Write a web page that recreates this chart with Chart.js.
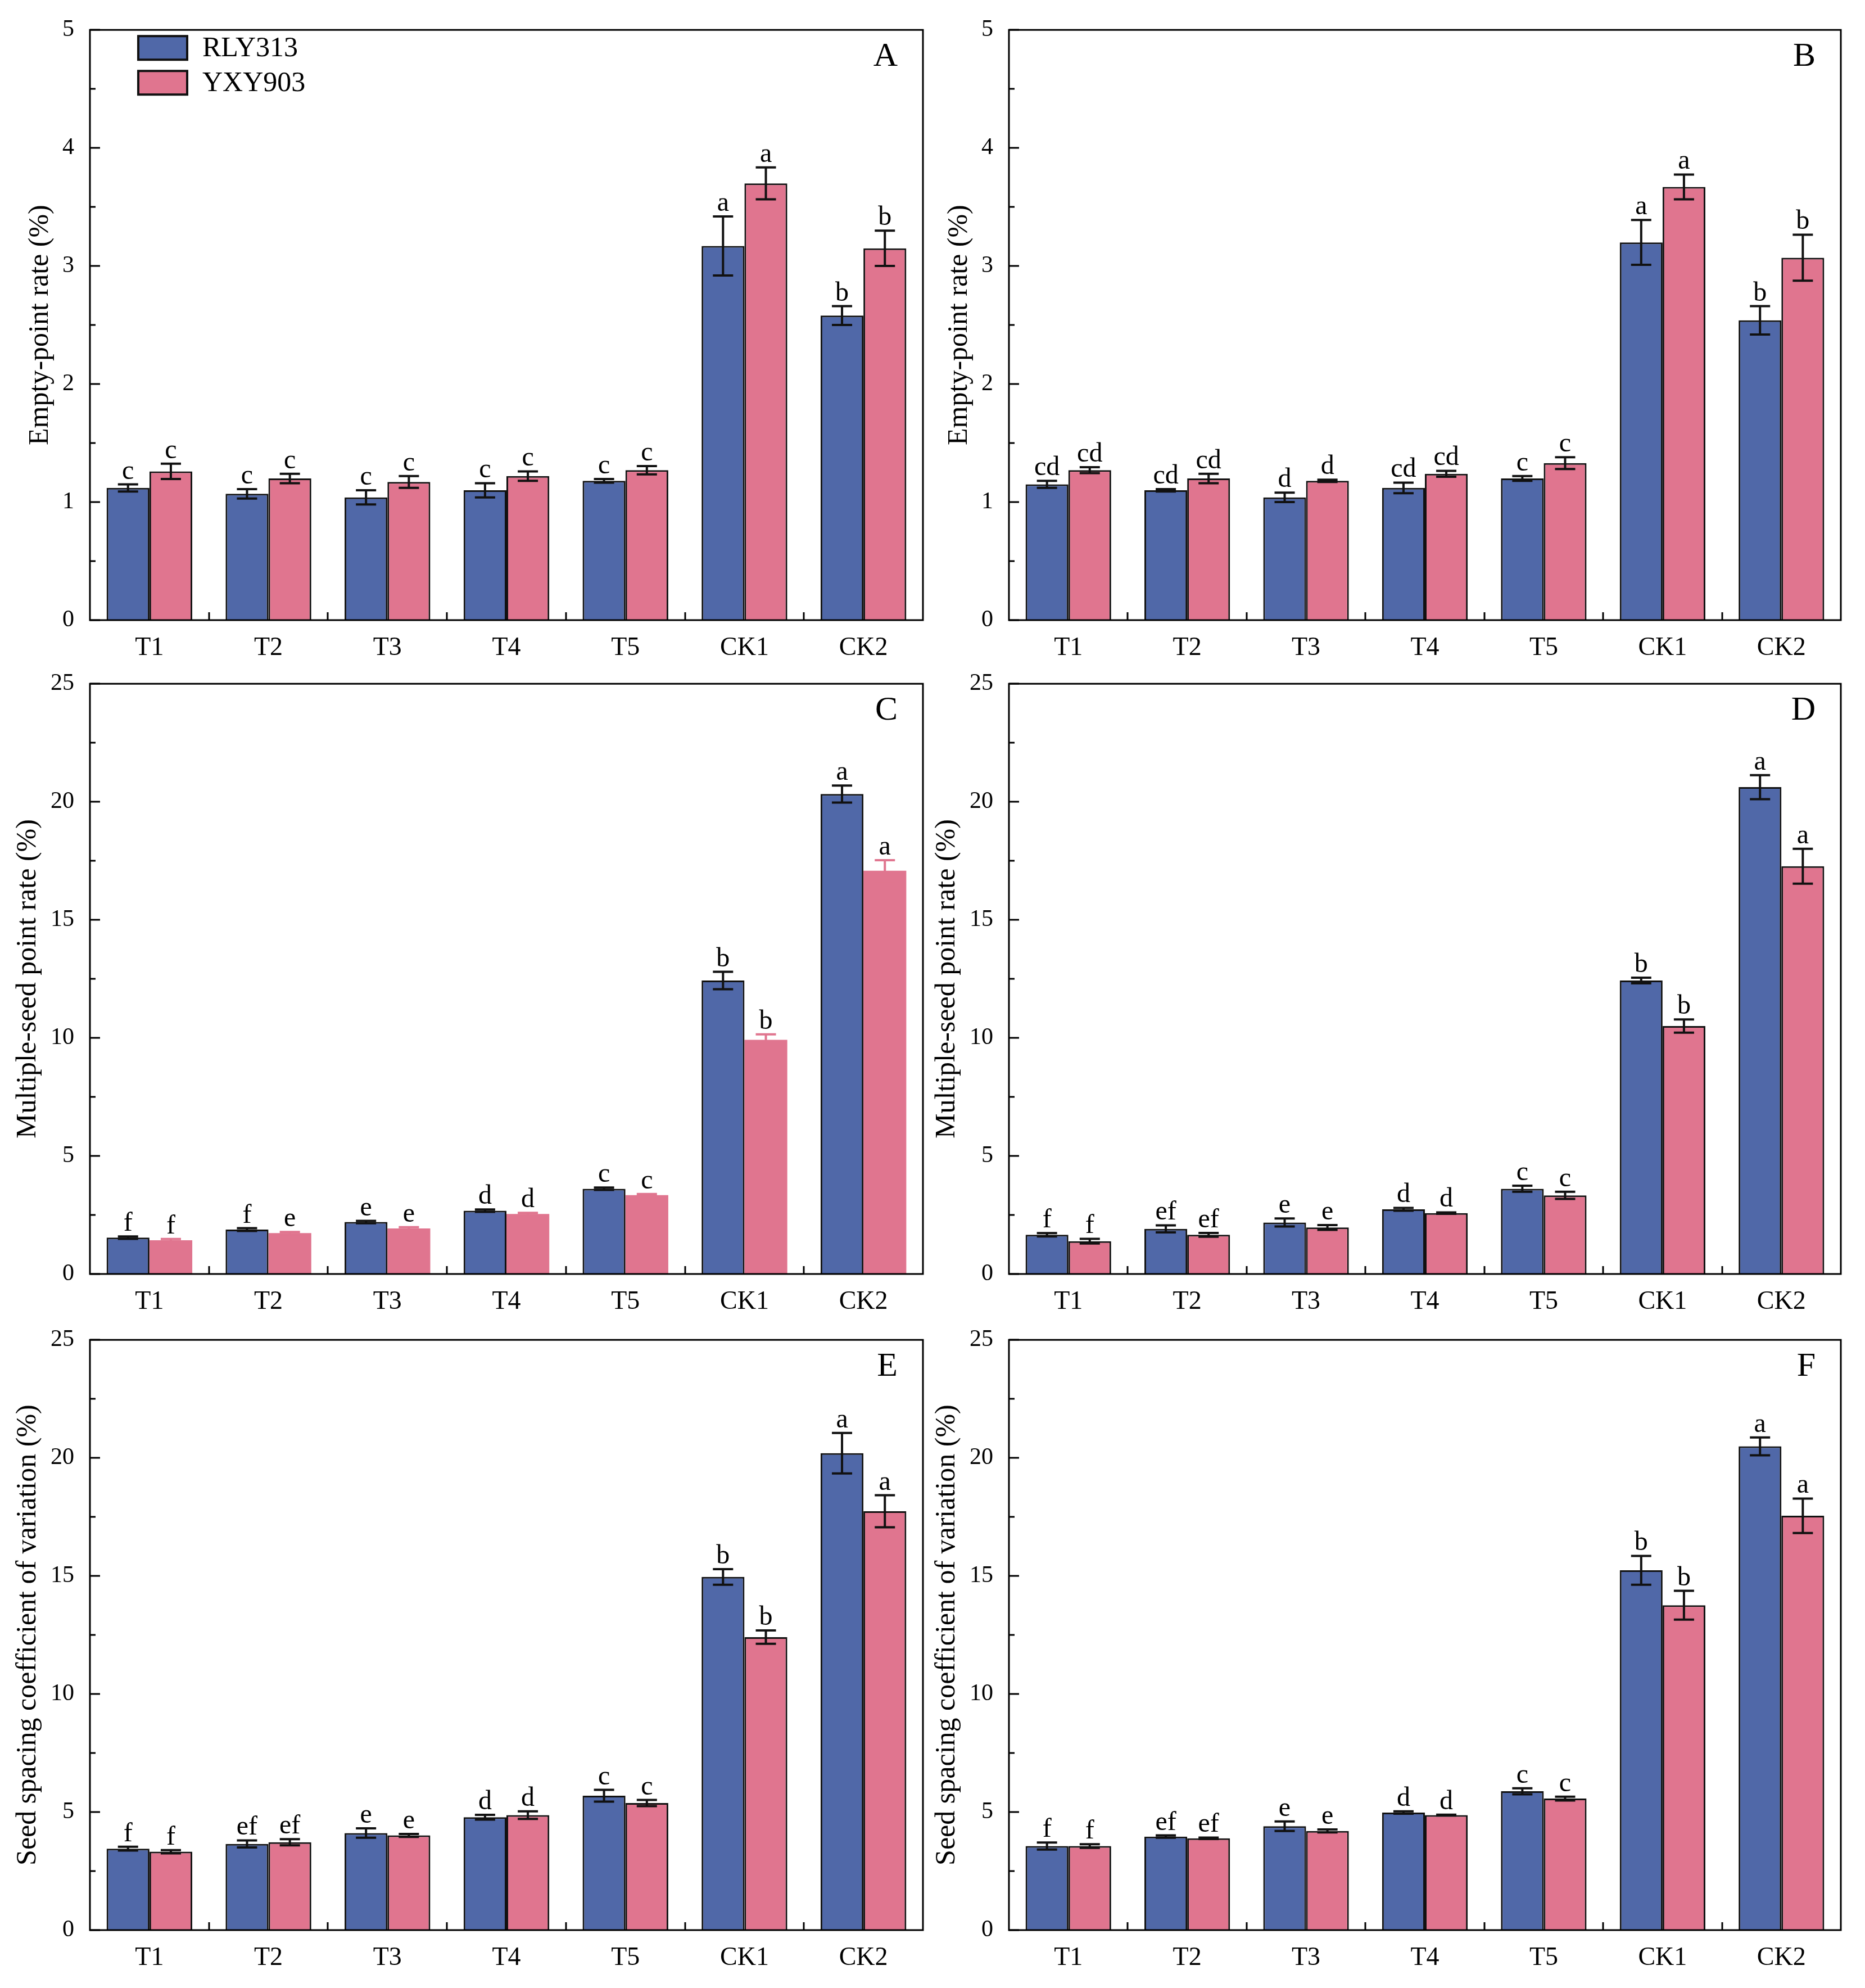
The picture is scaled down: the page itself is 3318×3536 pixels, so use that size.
<!DOCTYPE html>
<html>
<head>
<meta charset="utf-8">
<script src="https://cdn.jsdelivr.net/npm/chart.js@4.4.0/dist/chart.umd.min.js"></script>
<style>
  body { margin: 0; background: #fff; width: 3318px; height: 3536px; position: relative; overflow: hidden; }
  .panel { position: absolute; }
</style>
</head>
<body>
<div class="panel" id="wrapA"><canvas id="chartA"></canvas></div>
<div class="panel" id="wrapB"><canvas id="chartB"></canvas></div>
<div class="panel" id="wrapC"><canvas id="chartC"></canvas></div>
<div class="panel" id="wrapD"><canvas id="chartD"></canvas></div>
<div class="panel" id="wrapE"><canvas id="chartE"></canvas></div>
<div class="panel" id="wrapF"><canvas id="chartF"></canvas></div>
<script>
var categories = ['T1', 'T2', 'T3', 'T4', 'T5', 'CK1', 'CK2'];
var seriesNames = ['RLY313', 'YXY903'];
var blue = '#5068a8';
var pink = '#e0758f';
var serif = '"Liberation Serif", "Times New Roman", serif';

// A - empty-point rate, site 1
var emptyRlyA = [1.12, 1.07, 1.04, 1.10, 1.18, 3.17, 2.58];
var emptyRlyErrA = [0.03, 0.04, 0.06, 0.06, 0.015, 0.25, 0.08];
var emptyYxyA = [1.26, 1.20, 1.17, 1.22, 1.27, 3.70, 3.15];
var emptyYxyErrA = [0.065, 0.04, 0.05, 0.04, 0.035, 0.135, 0.15];
var emptyRlyLetA = ['c', 'c', 'c', 'c', 'c', 'a', 'b'];
var emptyYxyLetA = ['c', 'c', 'c', 'c', 'c', 'a', 'b'];

// B - empty-point rate, site 2
var emptyRlyB = [1.15, 1.10, 1.04, 1.12, 1.20, 3.20, 2.54];
var emptyRlyErrB = [0.03, 0.01, 0.04, 0.045, 0.02, 0.19, 0.12];
var emptyYxyB = [1.27, 1.20, 1.18, 1.24, 1.33, 3.67, 3.07];
var emptyYxyErrB = [0.025, 0.04, 0.01, 0.025, 0.05, 0.105, 0.195];
var emptyRlyLetB = ['cd', 'cd', 'd', 'cd', 'c', 'a', 'b'];
var emptyYxyLetB = ['cd', 'cd', 'd', 'cd', 'c', 'a', 'b'];

// C - multiple-seed point rate, site 1
var multiRlyC = [1.54, 1.88, 2.20, 2.68, 3.61, 12.43, 20.33];
var multiRlyErrC = [0.05, 0.06, 0.05, 0.05, 0.05, 0.37, 0.36];
var multiYxyC = [1.43, 1.73, 1.93, 2.54, 3.34, 9.92, 17.08];
var multiYxyErrC = [0.05, 0.05, 0.05, 0.05, 0.05, 0.23, 0.45];
var multiRlyLetC = ['f', 'f', 'e', 'd', 'c', 'b', 'a'];
var multiYxyLetC = ['f', 'e', 'e', 'd', 'c', 'b', 'a'];

// D - multiple-seed point rate, site 2
var multiRlyD = [1.66, 1.91, 2.18, 2.74, 3.61, 12.43, 20.62];
var multiRlyErrD = [0.07, 0.15, 0.17, 0.06, 0.13, 0.12, 0.51];
var multiYxyD = [1.39, 1.66, 1.97, 2.58, 3.33, 10.50, 17.27];
var multiYxyErrD = [0.10, 0.08, 0.10, 0.03, 0.15, 0.28, 0.74];
var multiRlyLetD = ['f', 'ef', 'e', 'd', 'c', 'b', 'a'];
var multiYxyLetD = ['f', 'ef', 'e', 'd', 'c', 'b', 'a'];

// E - seed spacing CV, site 1
var cvRlyE = [3.45, 3.65, 4.11, 4.78, 5.69, 14.96, 20.20];
var cvRlyErrE = [0.08, 0.15, 0.20, 0.10, 0.25, 0.33, 0.86];
var cvYxyE = [3.32, 3.72, 4.01, 4.87, 5.38, 12.41, 17.74];
var cvYxyErrE = [0.07, 0.13, 0.06, 0.16, 0.13, 0.28, 0.68];
var cvRlyLetE = ['f', 'ef', 'e', 'd', 'c', 'b', 'a'];
var cvYxyLetE = ['f', 'ef', 'e', 'd', 'c', 'b', 'a'];

// F - seed spacing CV, site 2
var cvRlyF = [3.56, 3.96, 4.40, 4.98, 5.88, 15.24, 20.49];
var cvRlyErrF = [0.15, 0.05, 0.20, 0.05, 0.13, 0.61, 0.38];
var cvYxyF = [3.56, 3.89, 4.20, 4.87, 5.57, 13.76, 17.55];
var cvYxyErrF = [0.08, 0.03, 0.06, 0.02, 0.08, 0.61, 0.73];
var cvRlyLetF = ['f', 'ef', 'e', 'd', 'c', 'b', 'a'];
var cvYxyLetF = ['f', 'ef', 'e', 'd', 'c', 'b', 'a'];

var decorPlugin = {
    id: 'decor',
    afterDatasetsDraw: function(chart) {
        var ctx = chart.ctx, yScale = chart.scales.y;
        ctx.save();
        chart.data.datasets.forEach(function(ds, i) {
            var meta = chart.getDatasetMeta(i);
            meta.data.forEach(function(bar, j) {
                var top = yScale.getPixelForValue(ds.data[j] + ds.errors[j]);
                var bot = yScale.getPixelForValue(ds.data[j] - ds.errors[j]);
                ctx.strokeStyle = ds.errorColor;
                ctx.lineWidth = 4;
                ctx.beginPath();
                ctx.moveTo(bar.x, top); ctx.lineTo(bar.x, bot);
                ctx.moveTo(bar.x - 18, top); ctx.lineTo(bar.x + 18, top);
                ctx.moveTo(bar.x - 18, bot); ctx.lineTo(bar.x + 18, bot);
                ctx.stroke();
                ctx.fillStyle = '#000';
                ctx.font = '48px ' + serif;
                ctx.textAlign = 'center';
                ctx.textBaseline = 'alphabetic';
                ctx.fillText(ds.letters[j], bar.x, top - 10);
            });
        });
        ctx.restore();
    },
    afterDraw: function(chart) {
        var o = chart.options.plugins.decor;
        var ctx = chart.ctx, a = chart.chartArea;
        var yScale = chart.scales.y, xScale = chart.scales.x;
        ctx.save();
        ctx.strokeStyle = '#000';
        ctx.lineWidth = 3;
        ctx.strokeRect(a.left, a.top, a.right - a.left, a.bottom - a.top);

        // inward ticks on y axis
        ctx.beginPath();
        for (var v = 0; v <= o.yMax + 1e-9; v += o.minorStep) {
            var py = Math.round(yScale.getPixelForValue(v));
            var major = Math.abs(v / o.yStep - Math.round(v / o.yStep)) < 1e-6;
            ctx.moveTo(a.left, py);
            ctx.lineTo(a.left + (major ? 18 : 10), py);
        }
        // ticks between categories on x axis
        for (var k = 1; k < categories.length; k++) {
            var px = Math.round((xScale.getPixelForValue(k - 1) + xScale.getPixelForValue(k)) / 2);
            ctx.moveTo(px, a.bottom);
            ctx.lineTo(px, a.bottom - 14);
        }
        ctx.stroke();

        // panel letter
        ctx.fillStyle = '#000';
        ctx.font = '60px ' + serif;
        ctx.textAlign = 'right';
        ctx.textBaseline = 'alphabetic';
        ctx.fillText(o.letter, a.right - 45, a.top + 64);

        // legend (panel A only)
        if (o.legend) {
            chart.data.datasets.forEach(function(ds, i) {
                var bx = a.left + 86, by = a.top + 11 + i * 62;
                ctx.fillStyle = ds.backgroundColor;
                ctx.fillRect(bx, by, 87, 42);
                ctx.lineWidth = 4;
                ctx.strokeStyle = '#111';
                ctx.strokeRect(bx, by, 87, 42);
                ctx.fillStyle = '#000';
                ctx.font = '50px ' + serif;
                ctx.textAlign = 'left';
                ctx.textBaseline = 'middle';
                ctx.fillText(ds.label, bx + 114, by + 23);
            });
        }
        ctx.restore();
    }
};

function makePanel(p) {
    var wrap = document.getElementById('wrap' + p.letter);
    var canvas = document.getElementById('chart' + p.letter);
    var col = p.col, plotTops = [50, 1213, 2380];
    var canvasLeft = col === 0 ? 0 : 1650;
    var yWidth = col === 0 ? 160 : 145;
    var padRight = col === 0 ? 18 : 35;
    var plotHeight = 1053;
    wrap.style.left = canvasLeft + 'px';
    wrap.style.top = (plotTops[p.row] - 50) + 'px';
    canvas.width = 1660;
    canvas.height = 50 + plotHeight + 70;

    var datasets = [
        {
            label: seriesNames[0], data: p.rly, errors: p.rlyErr, letters: p.rlyLet,
            backgroundColor: blue, borderColor: '#111', borderWidth: 3, errorColor: '#111'
        },
        {
            label: seriesNames[1], data: p.yxy, errors: p.yxyErr, letters: p.yxyLet,
            backgroundColor: pink, borderColor: '#111', borderWidth: p.pinkBorder ? 3 : 0,
            errorColor: p.pinkBorder ? '#111' : pink
        }
    ];

    return new Chart(canvas, {
        type: 'bar',
        data: { labels: categories, datasets: datasets },
        plugins: [decorPlugin],
        options: {
            responsive: false,
            animation: false,
            devicePixelRatio: 1,
            layout: { padding: { left: 0, right: padRight, top: 50, bottom: 0 } },
            datasets: { bar: { categoryPercentage: 0.72, barPercentage: 1.0 } },
            plugins: {
                legend: { display: false },
                tooltip: { enabled: false },
                decor: { letter: p.letter, yMax: p.yMax, yStep: p.yStep, minorStep: p.minorStep, legend: p.legend }
            },
            scales: {
                x: {
                    grid: { display: false, drawTicks: false },
                    border: { display: false },
                    ticks: { color: '#000', font: { family: serif, size: 46 }, padding: 22, maxRotation: 0 },
                    afterFit: function(scale) { scale.height = 70; }
                },
                y: {
                    min: 0, max: p.yMax,
                    grid: { display: false, drawTicks: false },
                    border: { display: false },
                    ticks: { stepSize: p.yStep, color: '#000', font: { family: serif, size: 42 }, padding: 28 },
                    title: {
                        display: true, text: p.title, color: '#000',
                        font: { family: serif, size: 50 },
                        padding: { top: p.titlePad, bottom: 0 }
                    },
                    afterFit: function(scale) { scale.width = yWidth; }
                }
            }
        }
    });
}

var emptyTitle = 'Empty-point rate (%)';
var multiTitle = 'Multiple-seed point rate (%)';
var cvTitle = 'Seed spacing coefficient of variation (%)';

makePanel({ letter: 'A', col: 0, row: 0, yMax: 5, yStep: 1, minorStep: 0.5, title: emptyTitle, titlePad: 42, legend: true, pinkBorder: true,
    rly: emptyRlyA, rlyErr: emptyRlyErrA, rlyLet: emptyRlyLetA, yxy: emptyYxyA, yxyErr: emptyYxyErrA, yxyLet: emptyYxyLetA });
makePanel({ letter: 'B', col: 1, row: 0, yMax: 5, yStep: 1, minorStep: 0.5, title: emptyTitle, titlePad: 27, legend: false, pinkBorder: true,
    rly: emptyRlyB, rlyErr: emptyRlyErrB, rlyLet: emptyRlyLetB, yxy: emptyYxyB, yxyErr: emptyYxyErrB, yxyLet: emptyYxyLetB });
makePanel({ letter: 'C', col: 0, row: 1, yMax: 25, yStep: 5, minorStep: 2.5, title: multiTitle, titlePad: 20, legend: false, pinkBorder: false,
    rly: multiRlyC, rlyErr: multiRlyErrC, rlyLet: multiRlyLetC, yxy: multiYxyC, yxyErr: multiYxyErrC, yxyLet: multiYxyLetC });
makePanel({ letter: 'D', col: 1, row: 1, yMax: 25, yStep: 5, minorStep: 2.5, title: multiTitle, titlePad: 5, legend: false, pinkBorder: true,
    rly: multiRlyD, rlyErr: multiRlyErrD, rlyLet: multiRlyLetD, yxy: multiYxyD, yxyErr: multiYxyErrD, yxyLet: multiYxyLetD });
makePanel({ letter: 'E', col: 0, row: 2, yMax: 25, yStep: 5, minorStep: 2.5, title: cvTitle, titlePad: 20, legend: false, pinkBorder: true,
    rly: cvRlyE, rlyErr: cvRlyErrE, rlyLet: cvRlyLetE, yxy: cvYxyE, yxyErr: cvYxyErrE, yxyLet: cvYxyLetE });
makePanel({ letter: 'F', col: 1, row: 2, yMax: 25, yStep: 5, minorStep: 2.5, title: cvTitle, titlePad: 5, legend: false, pinkBorder: true,
    rly: cvRlyF, rlyErr: cvRlyErrF, rlyLet: cvRlyLetF, yxy: cvYxyF, yxyErr: cvYxyErrF, yxyLet: cvYxyLetF });
</script>
</body>
</html>
